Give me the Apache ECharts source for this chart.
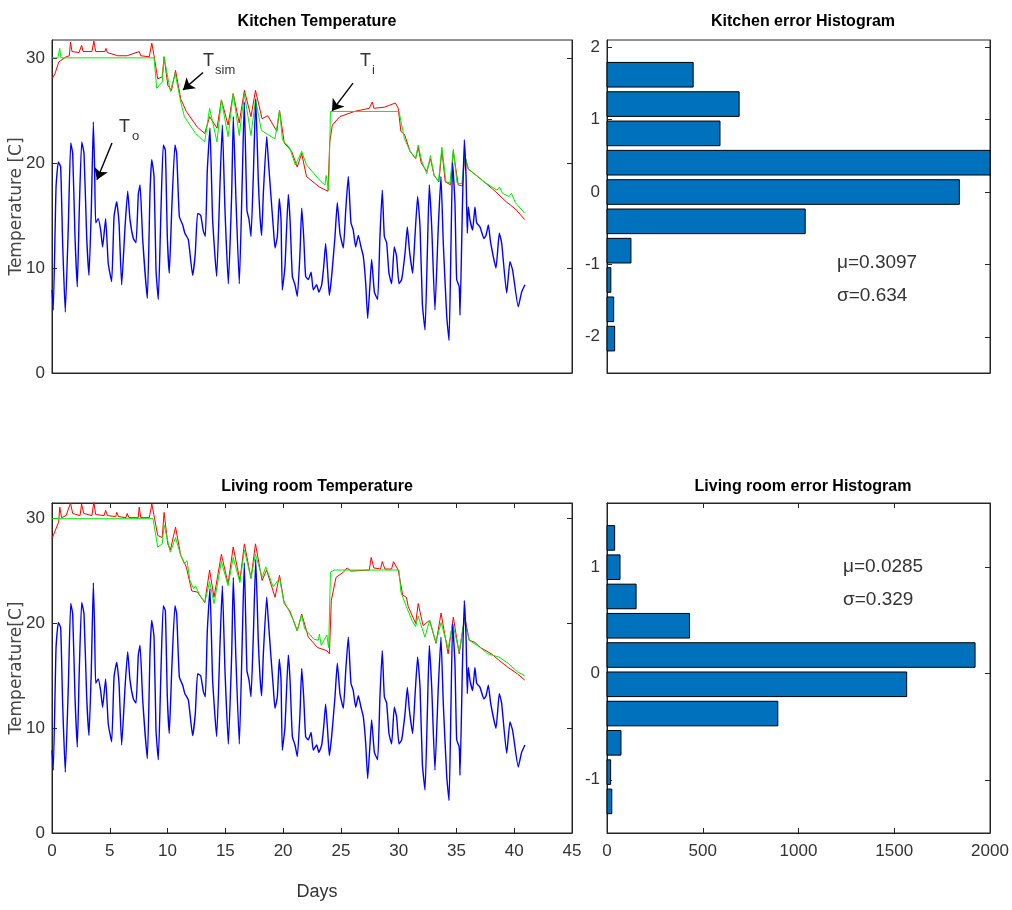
<!DOCTYPE html>
<html>
<head>
<meta charset="utf-8">
<title>Kitchen / Living room temperature</title>
<script src="https://cdn.jsdelivr.net/npm/echarts@6/dist/echarts.min.js"></script>
<style>
  html, body { margin: 0; padding: 0; background: #fff; }
  #main { width: 1012px; height: 910px; }
</style>
</head>
<body>
<div id="main"></div>
<script>
// ---- data (days, degC) ----
var outdoorTemp = [[0,7.9],[0.11,6.0],[0.35,17.7],[0.55,20.1],[0.75,19.6],[0.92,12.4],[1.15,5.8],[1.41,13.9],[1.62,21.9],[1.79,20.9],[1.99,13.0],[2.19,8.2],[2.36,15.5],[2.57,22.0],[2.77,20.9],[3.0,13.0],[3.2,9.3],[3.4,15.5],[3.58,23.9],[3.69,19.3],[3.78,14.3],[4.0,14.7],[4.21,13.6],[4.38,12.0],[4.64,14.7],[4.87,10.4],[5.16,8.7],[5.37,14.9],[5.6,16.3],[5.8,14.3],[6.03,8.4],[6.32,13.9],[6.55,17.3],[6.75,14.6],[7.04,12.8],[7.27,12.4],[7.47,17.0],[7.62,17.9],[7.85,12.7],[8.25,7.1],[8.48,17.1],[8.63,20.3],[8.83,18.7],[9.0,9.8],[9.2,7.0],[9.43,15.5],[9.63,21.7],[9.81,21.2],[9.98,13.0],[10.15,9.5],[10.36,15.5],[10.64,21.7],[10.79,20.9],[11.02,14.9],[11.31,14.1],[11.5,13.3],[11.8,12.7],[12.17,9.3],[12.4,11.4],[12.6,15.2],[12.87,15.0],[13.1,13.5],[13.27,13.0],[13.44,19.3],[13.67,23.3],[13.9,14.6],[14.25,9.2],[14.54,18.1],[14.74,23.6],[14.97,15.5],[15.26,8.5],[15.55,17.1],[15.69,24.4],[15.92,16.5],[16.21,8.5],[16.47,18.7],[16.64,25.8],[16.87,15.5],[17.05,14.6],[17.22,13.0],[17.42,18.7],[17.63,26.1],[17.86,18.1],[18.0,14.9],[18.14,13.1],[18.29,17.1],[18.58,22.5],[18.72,20.3],[18.95,16.8],[19.15,13.9],[19.3,11.9],[19.5,13.0],[19.67,16.6],[19.82,14.6],[19.93,7.9],[20.16,10.1],[20.45,17.0],[20.6,14.6],[20.8,9.2],[21.03,8.4],[21.23,7.3],[21.46,11.4],[21.61,15.7],[21.78,13.0],[21.95,9.2],[22.18,8.9],[22.42,9.6],[22.61,7.9],[22.9,8.4],[23.1,7.7],[23.34,8.4],[23.51,10.1],[23.68,12.3],[23.85,9.8],[24.0,7.4],[24.2,9.2],[24.49,13.0],[24.69,16.2],[24.92,13.3],[25.21,11.9],[25.42,15.5],[25.64,18.7],[25.87,14.3],[26.07,13.6],[26.28,12.0],[26.51,13.1],[26.74,12.0],[26.94,11.1],[27.15,8.5],[27.32,5.2],[27.52,8.5],[27.66,10.8],[27.9,7.7],[28.18,7.0],[28.38,13.0],[28.58,17.4],[28.76,13.0],[28.96,12.4],[29.16,9.5],[29.39,8.5],[29.62,12.0],[29.82,11.1],[30.03,8.5],[30.26,8.9],[30.55,11.4],[30.75,13.9],[30.93,11.7],[31.21,9.5],[31.41,13.0],[31.64,16.8],[31.85,13.9],[32.05,6.6],[32.28,4.1],[32.48,11.4],[32.65,17.9],[32.86,13.9],[33.14,6.0],[33.43,13.9],[33.66,18.7],[33.86,12.4],[34.16,5.4],[34.36,3.1],[34.53,12.4],[34.67,20.0],[34.87,16.2],[35.02,8.9],[35.24,8.2],[35.31,5.5],[35.51,15.5],[35.68,22.2],[35.83,18.7],[35.94,13.3],[36.03,15.8],[36.17,14.6],[36.4,13.6],[36.6,15.8],[36.75,14.3],[37.04,13.9],[37.38,12.8],[37.56,13.1],[37.76,14.1],[37.96,12.4],[38.42,10.0],[38.71,13.3],[38.91,12.4],[39.35,7.6],[39.63,10.6],[39.86,9.8],[40.35,6.3],[40.64,7.7],[40.93,8.4]];

var kitchenMeas = [[0,30.0],[0.51,30.0],[0.67,30.9],[0.77,30.0],[8.83,30.0],[9.06,27.1],[9.54,27.7],[9.7,30.1],[10.24,26.8],[10.66,28.5],[11.14,25.8],[11.46,24.4],[12.42,22.8],[13.22,22.0],[13.64,25.2],[14.28,22.0],[14.66,26.0],[15.24,22.5],[15.68,26.6],[16.2,22.6],[16.65,26.6],[17.22,22.6],[17.61,26.1],[18.12,23.1],[18.66,22.7],[19.3,22.3],[19.69,25.0],[19.94,22.2],[20.58,21.4],[21.06,19.8],[21.61,21.1],[22.02,19.8],[23.3,18.2],[23.62,17.9],[23.72,18.8],[23.94,17.4],[24.1,24.9],[30.03,24.9],[30.5,22.3],[30.99,21.1],[31.47,20.4],[31.69,21.7],[32.01,20.1],[32.43,19.0],[32.75,20.7],[33.07,18.8],[33.45,18.3],[33.74,21.5],[34.09,18.2],[34.44,18.1],[34.73,21.3],[35.05,18.1],[35.47,18.0],[35.72,20.9],[35.95,19.5],[37.39,18.2],[38.51,17.4],[38.73,17.7],[38.99,17.1],[39.56,16.8],[39.76,17.1],[40.11,16.2],[40.91,15.2]];

var kitchenSim = [[0,28.0],[0.26,28.5],[0.58,29.6],[1.22,30.1],[1.5,30.2],[1.6,31.5],[1.73,30.6],[2.34,30.5],[2.56,31.2],[2.69,30.6],[3.46,30.6],[3.62,31.6],[3.78,30.6],[4.58,30.6],[4.67,30.9],[4.8,30.5],[5.7,30.2],[6.5,30.2],[7.55,30.6],[7.68,30.2],[8.42,30.1],[8.64,31.4],[8.83,30.2],[9.15,28.0],[9.54,28.2],[9.7,30.1],[10.02,27.4],[10.34,26.9],[10.69,28.8],[11.14,26.1],[11.62,24.9],[12.58,23.4],[13.22,22.8],[13.64,24.4],[14.28,23.3],[14.66,26.0],[15.24,23.6],[15.68,26.6],[16.2,23.8],[16.65,26.9],[17.22,24.4],[17.61,26.9],[18.18,24.2],[18.66,24.5],[19.46,23.0],[19.69,25.0],[20.1,21.9],[20.74,21.1],[21.22,19.6],[21.61,20.9],[22.02,18.7],[23.14,17.7],[23.88,17.3],[24.04,22.0],[24.26,23.6],[24.9,24.4],[26.18,24.9],[27.46,25.2],[27.72,25.8],[27.85,25.2],[28.75,25.3],[29.71,25.7],[29.96,25.2],[30.19,23.0],[30.51,22.7],[30.67,22.8],[30.99,21.1],[31.47,20.4],[31.69,21.5],[31.95,20.0],[32.43,19.2],[32.75,20.4],[33.07,18.8],[33.48,18.2],[33.74,21.2],[34.03,18.2],[34.5,17.9],[34.73,21.1],[35.15,17.9],[35.53,17.8],[35.72,20.7],[36.04,19.4],[37.07,18.5],[38.35,17.3],[39.31,16.3],[40.11,15.6],[40.91,14.6]];

var livingMeas = [[0,30.0],[8.74,30.0],[9.15,27.3],[9.54,27.6],[9.7,29.4],[10.24,26.8],[10.69,28.2],[11.14,26.5],[11.46,25.7],[11.68,26.0],[11.94,24.1],[12.26,23.3],[12.42,23.6],[12.74,22.8],[13.22,22.0],[13.64,24.0],[14.02,21.9],[14.66,25.9],[15.24,23.6],[15.68,26.3],[16.26,23.9],[16.65,27.0],[17.22,24.3],[17.61,26.6],[18.18,24.4],[18.5,25.4],[19.14,23.5],[19.69,24.3],[20.04,22.2],[20.42,21.4],[20.9,20.3],[21.22,19.3],[21.61,20.8],[21.86,19.5],[22.66,18.5],[23.05,18.4],[23.14,19.0],[23.3,17.9],[23.78,18.9],[23.94,17.7],[24.1,24.9],[24.42,25.1],[30.03,25.1],[30.19,23.0],[30.67,21.6],[31.15,20.3],[31.47,19.7],[31.69,20.7],[32.27,18.7],[32.68,20.3],[33.23,18.2],[33.67,20.1],[34.28,17.6],[34.67,20.0],[35.24,17.3],[35.66,20.3],[36.11,18.4],[37.07,17.7],[37.71,17.1],[38.67,16.8],[39.47,16.2],[40.27,15.4],[40.91,15.0]];

var livingSim = [[0,28.1],[0.58,29.7],[0.67,31.1],[0.83,30.1],[1.22,30.3],[1.6,31.5],[1.79,30.5],[2.43,30.3],[2.56,31.4],[2.75,30.5],[3.46,30.3],[3.62,31.6],[3.78,30.4],[4.51,30.3],[4.64,30.8],[4.8,30.3],[5.51,30.2],[5.6,30.6],[5.76,30.2],[6.4,30.1],[6.5,30.5],[6.66,30.1],[7.46,30.1],[7.55,31.1],[7.68,30.1],[8.42,30.1],[8.64,31.4],[8.83,30.3],[9.15,28.4],[9.54,28.2],[9.7,30.6],[10.02,27.6],[10.24,27.0],[10.69,29.2],[11.14,26.5],[11.62,25.4],[12.1,23.1],[12.58,23.0],[13.22,22.0],[13.64,25.1],[14.02,22.5],[14.66,26.6],[15.24,23.8],[15.68,27.3],[16.26,24.1],[16.65,27.6],[17.22,24.3],[17.61,27.6],[18.18,24.1],[18.57,25.1],[19.3,22.5],[19.69,24.6],[20.1,21.9],[20.58,21.2],[21.22,19.3],[21.61,20.9],[22.18,18.7],[22.98,17.7],[23.78,17.4],[24.01,17.1],[24.17,22.2],[24.58,24.4],[25.22,24.9],[25.54,25.3],[25.86,25.0],[27.46,25.1],[27.62,26.3],[27.85,25.3],[28.43,25.2],[28.58,25.9],[28.81,25.2],[29.39,25.2],[29.55,25.9],[29.96,25.1],[30.35,22.7],[30.67,22.5],[30.83,21.6],[31.47,20.0],[31.69,21.9],[32.11,19.8],[32.68,20.3],[33.23,18.1],[33.67,21.0],[34.28,17.1],[34.73,20.6],[35.24,17.1],[35.72,20.6],[36.11,18.4],[36.59,18.2],[37.07,17.7],[38.03,17.1],[38.67,16.5],[39.47,15.8],[40.27,15.2],[40.91,14.6]];

// error histograms: bin centres (degC) and counts
var kitchenBinCenters = [1.62, 1.215, 0.81, 0.405, 0, -0.405, -0.81, -1.215, -1.62, -2.025];
var kitchenCounts     = [450, 690, 590, 2000, 1840, 1035, 125, 20, 35, 40];
var kitchenBinWidth = 0.405;
var livingBinCenters = [1.272, 0.997, 0.722, 0.447, 0.172, -0.103, -0.378, -0.653, -0.928, -1.203];
var livingCounts     = [40, 68, 152, 431, 1922, 1565, 892, 73, 19, 25];
var livingBinWidth = 0.275;

var tempTicks = [0, 10, 20, 30];
var kitchenErrTicks = [-2, -1, 0, 1, 2];
var livingErrTicks = [-1, 0, 1];

var kitchenStats = ['\u03bc=0.3097', '\u03c3=0.634'];
var livingStats = ['\u03bc=0.0285', '\u03c3=0.329'];

// ---- chart ----
var FONT = "'Liberation Sans Narrow','Liberation Sans',Arial,sans-serif";
var AX = '#262626';
var chart = echarts.init(document.getElementById('main'));

function zip(a, b) {
    var out = [];
    for (var i = 0; i < a.length; i++) out.push([a[i], b[i]]);
    return out;
}

function histRender(binW) {
    return function (params, api) {
        var n = api.value(0), c = api.value(1);
        var p1 = api.coord([0, c + binW * 0.42]);
        var p2 = api.coord([n, c - binW * 0.42]);
        return {
            type: 'rect',
            shape: { x: p1[0], y: p1[1], width: p2[0] - p1[0], height: p2[1] - p1[1] },
            style: { fill: '#0072BD', stroke: '#000', lineWidth: 1 }
        };
    };
}

function boxGrid(left, top, width, height) {
    return { left: left, top: top, width: width, height: height, show: true,
        containLabel: false, outerBoundsMode: 'none',
        borderColor: AX, borderWidth: 1, backgroundColor: 'transparent' };
}

var labelStyle = { color: '#333', fontSize: 17, fontFamily: FONT };

function plain(v) { return String(v); }

function xAx(grid, min, max, interval, showLabels, showTicks, pos) {
    return {
        type: 'value', gridIndex: grid, min: min, max: max, interval: interval,
        position: pos || 'bottom',
        axisLine: { show: true, onZero: false, lineStyle: { color: AX } },
        axisTick: { show: showTicks, inside: true, length: 5, lineStyle: { color: AX } },
        axisLabel: Object.assign({ show: showLabels, margin: 10, formatter: plain }, labelStyle),
        splitLine: { show: false }
    };
}

function yAx(grid, min, max, ticks, showLabels, pos, name) {
    return {
        type: 'value', gridIndex: grid, min: min, max: max,
        position: pos || 'left',
        name: name || '', nameLocation: 'middle', nameGap: 27, nameMoveOverlap: false,
        nameTextStyle: { color: '#444', fontSize: 17, fontFamily: "'DejaVu Sans',sans-serif" },
        axisLine: { show: true, onZero: false, lineStyle: { color: AX } },
        axisTick: { show: true, inside: true, length: 5, customValues: ticks, lineStyle: { color: AX } },
        axisLabel: Object.assign({ show: showLabels, margin: 7, customValues: ticks, formatter: plain }, labelStyle),
        splitLine: { show: false }
    };
}

function lineSeries(data, color, width, xi, yi) {
    return { type: 'line', data: data, xAxisIndex: xi, yAxisIndex: yi, showSymbol: false,
        symbol: 'none', lineStyle: { color: color, width: width }, silent: true, z: 2 };
}

function titleAt(text, x, y) {
    return { text: text, left: x, top: y, textAlign: 'center',
        textStyle: { fontSize: 16, fontWeight: 'bold', color: '#000', fontFamily: FONT } };
}

function label(x, y, text, size) {
    return { type: 'text', left: x, top: y, style: { text: text, fontSize: size,
        fill: '#333', fontFamily: FONT } };
}

var arrowStyle = { color: '#000', width: 1.4, type: 'solid' };

var option = {
    backgroundColor: '#fff',
    animation: false,
    title: [
        titleAt('Kitchen Temperature', 312, 9),
        titleAt('Kitchen error Histogram', 798, 9),
        titleAt('Living room Temperature', 312, 474),
        titleAt('Living room error Histogram', 798, 474),
        { text: 'Days', left: 312, top: 878, textAlign: 'center',
          textStyle: { fontSize: 18, fontWeight: 'normal', color: '#333', fontFamily: FONT } }
    ],
    grid: [
        boxGrid(52, 40, 520, 333),
        boxGrid(607, 40, 383, 333),
        boxGrid(52, 503, 520, 330),
        boxGrid(607, 503, 383, 330)
    ],
    xAxis: [
        xAx(0, 0, 45, 5, false, false),
        xAx(1, 0, 2000, 500, false, false),
        xAx(2, 0, 45, 5, true, true),
        xAx(3, 0, 2000, 500, true, true),
        xAx(2, 0, 45, 5, false, true, 'top'),
        xAx(3, 0, 2000, 500, false, true, 'top')
    ],
    yAxis: [
        yAx(0, 0, 31.7, tempTicks, true, 'left', 'Temperature [C]'),
        yAx(1, -2.5, 2.1, kitchenErrTicks, true, 'left'),
        yAx(2, 0, 31.5, tempTicks, true, 'left', 'Temperature[C]'),
        yAx(3, -1.5, 1.6, livingErrTicks, true, 'left'),
        yAx(0, 0, 31.7, tempTicks, false, 'right'),
        yAx(1, -2.5, 2.1, kitchenErrTicks, false, 'right'),
        yAx(2, 0, 31.5, tempTicks, false, 'right'),
        yAx(3, -1.5, 1.6, livingErrTicks, false, 'right')
    ],
    series: [
        lineSeries(kitchenSim, '#ff0000', 1, 0, 0),
        lineSeries(kitchenMeas, '#00ee00', 1, 0, 0),
        Object.assign(lineSeries(outdoorTemp, '#0000ff', 1.4, 0, 0), {
            smooth: 0.15,
            markLine: {
                silent: true, symbol: ['none', 'arrow'], symbolSize: 11,
                label: { show: false }, lineStyle: arrowStyle,
                data: [
                    [{ coord: [5.19, 21.9] }, { coord: [3.89, 18.4] }],
                    [{ coord: [13.07, 28.6] }, { coord: [11.34, 26.95] }],
                    [{ coord: [26.05, 27.6] }, { coord: [24.23, 24.95] }]
                ]
            }
        }),
        lineSeries(livingSim, '#ff0000', 1, 2, 2),
        lineSeries(livingMeas, '#00ee00', 1, 2, 2),
        Object.assign(lineSeries(outdoorTemp, '#0000ff', 1.4, 2, 2), { smooth: 0.15 }),
        {
            type: 'custom', xAxisIndex: 1, yAxisIndex: 1, silent: true,
            renderItem: histRender(kitchenBinWidth),
            encode: { x: 0, y: 1 },
            data: zip(kitchenCounts, kitchenBinCenters)
        },
        {
            type: 'custom', xAxisIndex: 3, yAxisIndex: 3, silent: true,
            renderItem: histRender(livingBinWidth),
            encode: { x: 0, y: 1 },
            data: zip(livingCounts, livingBinCenters)
        }
    ],
    graphic: [
        label(119, 118, 'T', 18), label(132, 130, 'o', 13),
        label(203, 52, 'T', 18), label(215, 64, 'sim', 13),
        label(360, 52, 'T', 18), label(372, 64, 'i', 13),
        label(837, 253, kitchenStats[0], 19), label(837, 286, kitchenStats[1], 19),
        label(843, 557, livingStats[0], 19), label(843, 590, livingStats[1], 19)
    ]
};

chart.setOption(option);
</script>
</body>
</html>
